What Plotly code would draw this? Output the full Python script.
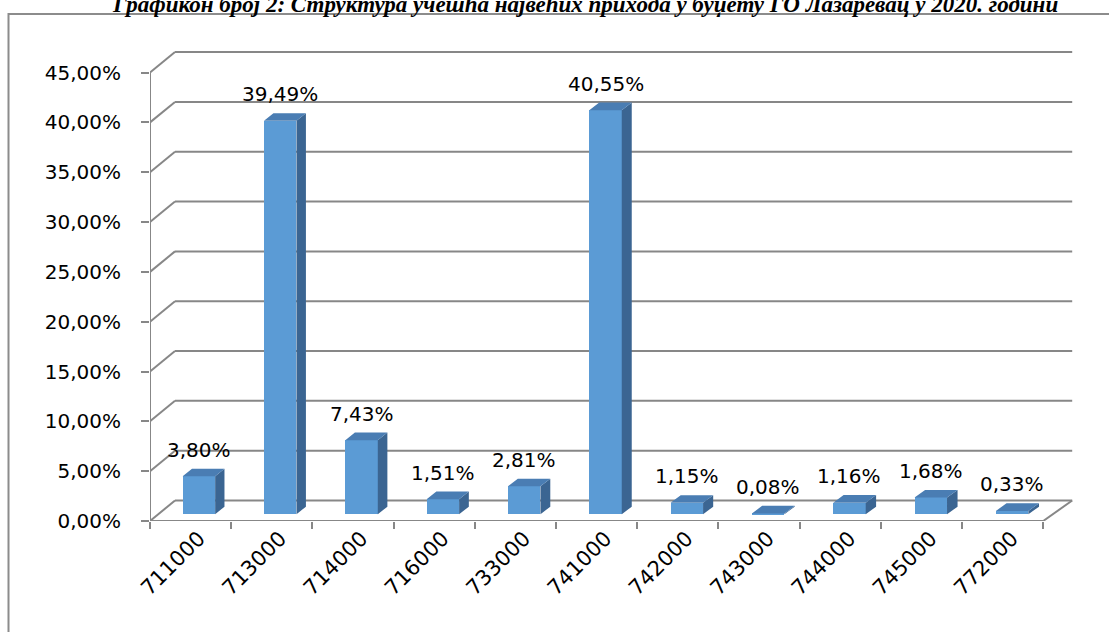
import plotly.graph_objects as go

# ---------------- data ----------------
categories = ["711000", "713000", "714000", "716000", "733000", "741000",
              "742000", "743000", "744000", "745000", "772000"]
values = [3.80, 39.49, 7.43, 1.51, 2.81, 40.55, 1.15, 0.08, 1.16, 1.68, 0.33]
y_ticks = [0, 5, 10, 15, 20, 25, 30, 35, 40, 45]
title_text = ("Графикон број 2: Структура учешћа највећих прихода у буџету "
              "ГО Лазаревац у 2020. години")

# ---------------- geometry / style ----------------
W, H = 1109, 632
L, R, T, B = 150, 36, 50, 111
PX_X = 81.2      # pixels per category unit
PX_Y = 9.965     # pixels per percent
plot_w = W - L - R
plot_h = H - T - B
X0 = -0.5
n = len(categories)
x_range = [X0, X0 + plot_w / PX_X]
y_range = [0, plot_h / PX_Y]

DX_L, DX_R = 25 / PX_X, 29 / PX_X   # depth offset (perspective) in x units
DY = 20.5 / PX_Y                    # depth offset in y units


def dx_at(x):
    return DX_L + (x - X0) / n * (DX_R - DX_L)


GRID = "#878787"
FRONT = "#5B9BD5"
TOP = "#4A7DB3"
SIDE = "#3B6592"
FONT = "DejaVu Sans"

F0, F1 = 0.33, 0.70   # bar depth (front / back fraction)
BW = 0.40             # bar width

fig = go.Figure()
shapes = []

# back wall gridlines + left wall diagonals
xl, xr = X0, X0 + n
for v in y_ticks:
    shapes.append(dict(type="line", xref="x", yref="y", layer="below",
                       x0=xl, y0=v, x1=xl + dx_at(xl), y1=v + DY,
                       line=dict(color=GRID, width=2)))
    shapes.append(dict(type="line", xref="x", yref="y", layer="below",
                       x0=xl + dx_at(xl), y0=v + DY, x1=xr + dx_at(xr), y1=v + DY,
                       line=dict(color=GRID, width=2)))
# floor front and right edges
shapes.append(dict(type="line", xref="x", yref="y", layer="below",
                   x0=xl, y0=0, x1=xr, y1=0, line=dict(color=GRID, width=2)))
shapes.append(dict(type="line", xref="x", yref="y", layer="below",
                   x0=xr, y0=0, x1=xr + dx_at(xr), y1=DY, line=dict(color=GRID, width=2)))
# y axis line
shapes.append(dict(type="line", xref="x", yref="y", layer="below",
                   x0=xl, y0=0, x1=xl, y1=max(y_ticks), line=dict(color=GRID, width=2)))

# outer chart border (paper coords)
def px_to_paper_x(px):
    return (px - L) / plot_w


def px_to_paper_y(py):
    return (H - B - py) / plot_h


shapes.append(dict(type="rect", xref="paper", yref="paper", layer="below",
                   x0=px_to_paper_x(8.5), x1=px_to_paper_x(1130),
                   y0=px_to_paper_y(660), y1=px_to_paper_y(14),
                   line=dict(color="#8C8C8C", width=2), fillcolor="rgba(0,0,0,0)"))

# bars
centers = [i + dx_at(i) * F0 for i in range(n)]
base = DY * F0
fig.add_trace(go.Bar(x=centers, y=values, base=base, width=BW,
                     marker=dict(color=FRONT, line=dict(width=0)),
                     hoverinfo="skip", showlegend=False))

top_x, top_y, side_x, side_y = [], [], [], []
for c, v, i in zip(centers, values, range(n)):
    ddx = dx_at(i) * (F1 - F0)
    ddy = DY * (F1 - F0)
    a, b = c - BW / 2, c + BW / 2
    t = base + v
    top_x += [a, b, b + ddx, a + ddx, a, None]
    top_y += [t, t, t + ddy, t + ddy, t, None]
    side_x += [b, b, b + ddx, b + ddx, b, None]
    side_y += [base, t, t + ddy, base + ddy, base, None]

fig.add_trace(go.Scatter(x=side_x, y=side_y, mode="lines", fill="toself",
                         fillcolor=SIDE, line=dict(width=0, color=SIDE),
                         hoverinfo="skip", showlegend=False))
fig.add_trace(go.Scatter(x=top_x, y=top_y, mode="lines", fill="toself",
                         fillcolor=TOP, line=dict(width=0, color=TOP),
                         hoverinfo="skip", showlegend=False))

# data labels
annotations = []
for c, v, i in zip(centers, values, range(n)):
    ytop = base + v + DY * (F1 - F0)
    annotations.append(dict(x=c, y=ytop, xref="x", yref="y", yanchor="middle",
                            xanchor="center", yshift=19, showarrow=False,
                            text=f"{v:.2f}%".replace(".", ","),
                            font=dict(family=FONT, size=20, color="black")))

# title (partly clipped at the top edge, as in the reference)
annotations.append(dict(x=px_to_paper_x(585), y=px_to_paper_y(4), xref="paper", yref="paper",
                        xanchor="center", yanchor="middle", showarrow=False,
                        text=f"<b><i>{title_text}</i></b>",
                        font=dict(family="Liberation Serif", size=23, color="black")))

# dummy trace for tick-mark axis
fig.add_trace(go.Scatter(x=[0], y=[0], xaxis="x2", mode="markers",
                         marker=dict(opacity=0), hoverinfo="skip", showlegend=False))

fig.update_layout(
    width=W, height=H,
    margin=dict(l=L, r=R, t=T, b=B, pad=0),
    paper_bgcolor="white", plot_bgcolor="white",
    shapes=shapes, annotations=annotations,
    xaxis=dict(range=x_range, tickmode="array", tickvals=centers, ticktext=categories,
               tickangle=-45, ticks="", showgrid=False, zeroline=False, showline=False,
               tickfont=dict(family=FONT, size=21, color="black")),
    xaxis2=dict(range=x_range, overlaying="x", anchor="y", side="bottom",
                tickmode="array", tickvals=[X0 + k for k in range(n + 1)],
                ticks="outside", ticklen=7, tickwidth=2, tickcolor=GRID,
                showticklabels=False, showgrid=False, zeroline=False, showline=False),
    yaxis=dict(range=y_range, tickmode="array", tickvals=y_ticks,
               ticktext=[f"{v:.2f}%".replace(".", ",") for v in y_ticks],
               ticks="outside", ticklen=8, tickwidth=2, tickcolor=GRID,
               ticklabelstandoff=16, showgrid=False, zeroline=False, showline=False,
               tickfont=dict(family=FONT, size=20, color="black")),
    bargap=0,
)

fig.write_html("out.html")
